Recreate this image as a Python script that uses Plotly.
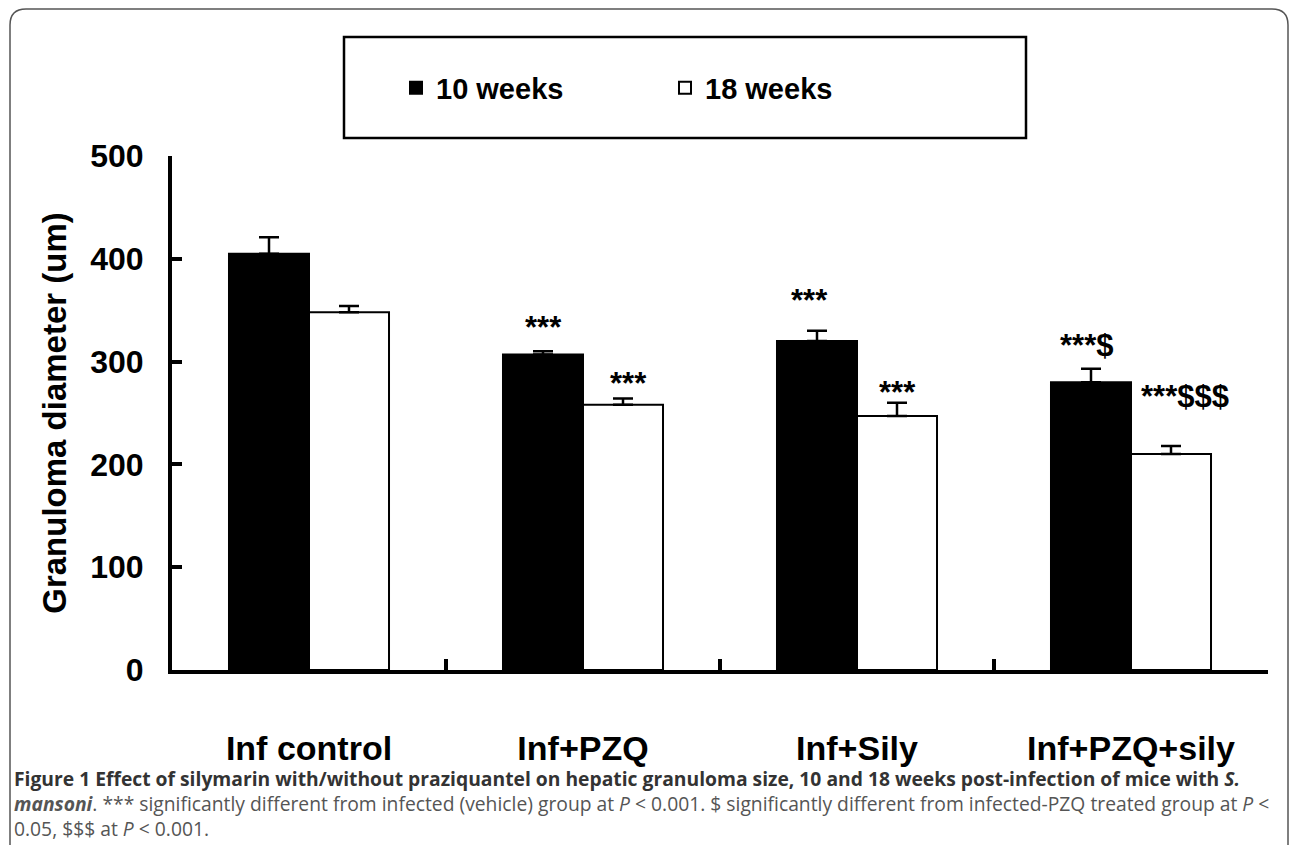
import plotly.graph_objects as go

# ---------------- data ----------------
categories = ["Inf control", "Inf+PZQ", "Inf+Sily", "Inf+PZQ+sily"]
series_names = ["10 weeks", "18 weeks"]
weeks10 = [405, 307, 320, 280]
weeks10_err = [16, 3, 10, 13]
weeks18 = [348, 258, 247, 210]
weeks18_err = [6, 6, 13, 8]
y_ticks = [0, 100, 200, 300, 400, 500]

# significance labels: (category index, series index, text, label height)
sig_cat = [1, 1, 2, 2, 3, 3]
sig_series = [0, 1, 0, 1, 0, 1]
sig_text = ["***", "***", "***", "***", "***$", "***$$$"]
sig_y = [333, 279, 359, 270, 316, 266]
sig_xshift = [0, 5, -8, 0, -5, 14]

caption_line1 = ("<b>Figure 1 Effect of silymarin with/without praziquantel on hepatic granuloma "
                 "size, 10 and 18 weeks post-infection of mice with <i>S.</i></b>")
caption_line2 = ("<b><i>mansoni</i></b>. *** significantly different from infected (vehicle) group at "
                 "<i>P</i> &lt; 0.001. $ significantly different from infected-PZQ treated group at <i>P</i> &lt;")
caption_line3 = "0.05, $$$ at <i>P</i> &lt; 0.001."

# ---------------- layout geometry ----------------
W, H = 1290, 845
L, R, T, B = 172, 22, 156, 175
PW, PH = W - L - R, H - T - B


def px(xp):
    return (xp - L) / PW


def py(yp):
    return (H - B - yp) / PH


FONT = "Liberation Sans, Arial, sans-serif"
BAR_GAP = 0.416
bar_w = (1 - BAR_GAP) / 2

fig = go.Figure()
fig.add_trace(go.Bar(
    name=series_names[0], x=categories, y=weeks10,
    marker=dict(color="black", line=dict(color="black", width=2)),
    error_y=dict(type="data", array=weeks10_err, arrayminus=[0] * 4, symmetric=False,
                 color="black", thickness=2.5, width=10),
))
fig.add_trace(go.Bar(
    name=series_names[1], x=categories, y=weeks18,
    marker=dict(color="white", line=dict(color="black", width=2)),
    error_y=dict(type="data", array=weeks18_err, arrayminus=[0] * 4, symmetric=False,
                 color="black", thickness=2.5, width=10),
))

annotations = []
for c, s, t, yv, xs in zip(sig_cat, sig_series, sig_text, sig_y, sig_xshift):
    xpos = c + (-bar_w / 2 if s == 0 else bar_w / 2)
    annotations.append(dict(x=xpos, y=yv, xref="x", yref="y", text=t, showarrow=False,
                            xshift=xs, yanchor="middle",
                            font=dict(family=FONT, size=31, color="black", weight="bold")))

cap_font = dict(family="Open Sans, sans-serif", size=19.3, color="#555555")
for i, line in enumerate([caption_line1, caption_line2, caption_line3]):
    annotations.append(dict(x=px(12), y=py(778 + 25 * i), xref="paper", yref="paper",
                            text=line, showarrow=False, xanchor="left", yanchor="middle",
                            align="left",
                            font=dict(cap_font, color="#333333" if i == 0 else "#555555")))

# rounded outer frame
x0, x1, y0, y1, r = px(10), px(1288), py(9), py(870), 16
rx, ry = r / PW, r / PH
frame = (f"M {x0},{y1} L {x0},{y0 - ry} Q {x0},{y0} {x0 + rx},{y0} "
         f"L {x1 - rx},{y0} Q {x1},{y0} {x1},{y0 - ry} L {x1},{y1}")

shapes = [
    dict(type="path", xref="paper", yref="paper", path=frame,
         line=dict(color="#555555", width=1.5)),
    dict(type="rect", xref="paper", yref="paper", x0=px(344), x1=px(1026), y0=py(37), y1=py(138),
         line=dict(color="black", width=2.5), fillcolor="rgba(0,0,0,0)"),
]

fig.update_layout(
    width=W, height=H,
    margin=dict(l=L, r=R, t=T, b=B, autoexpand=False),
    paper_bgcolor="white", plot_bgcolor="white",
    barmode="group", bargap=BAR_GAP, bargroupgap=0,
    showlegend=True,
    legend=dict(orientation="h", x=px(396), xanchor="left", y=py(88), yanchor="middle",
                font=dict(family=FONT, size=29, color="black", weight="bold"),
                entrywidth=224, entrywidthmode="pixels", bgcolor="rgba(0,0,0,0)",
                borderwidth=0),
    annotations=annotations,
    shapes=shapes,
    xaxis=dict(type="category", range=[-0.5, 3.5], showline=True, linecolor="black", linewidth=4,
               ticks="inside", tickson="boundaries", ticklen=11, tickwidth=4, tickcolor="black",
               tickfont=dict(family=FONT, size=34, color="black", weight="bold"),
               ticklabelstandoff=45, showgrid=False, zeroline=False),
    yaxis=dict(range=[0, 500], tickvals=y_ticks, showline=True, linecolor="black", linewidth=4,
               ticks="inside", ticklen=10, tickwidth=4, tickcolor="black",
               tickfont=dict(family=FONT, size=32, color="black", weight="bold"),
               ticklabelstandoff=18, showgrid=False, zeroline=False,
               title=dict(text="Granuloma diameter (um)", standoff=15,
                          font=dict(family=FONT, size=33, color="black", weight="bold"))),
)

fig.write_html("out.html", config={"displayModeBar": False},
               post_script="document.body.style.margin='0px';document.body.style.overflow='hidden';")
